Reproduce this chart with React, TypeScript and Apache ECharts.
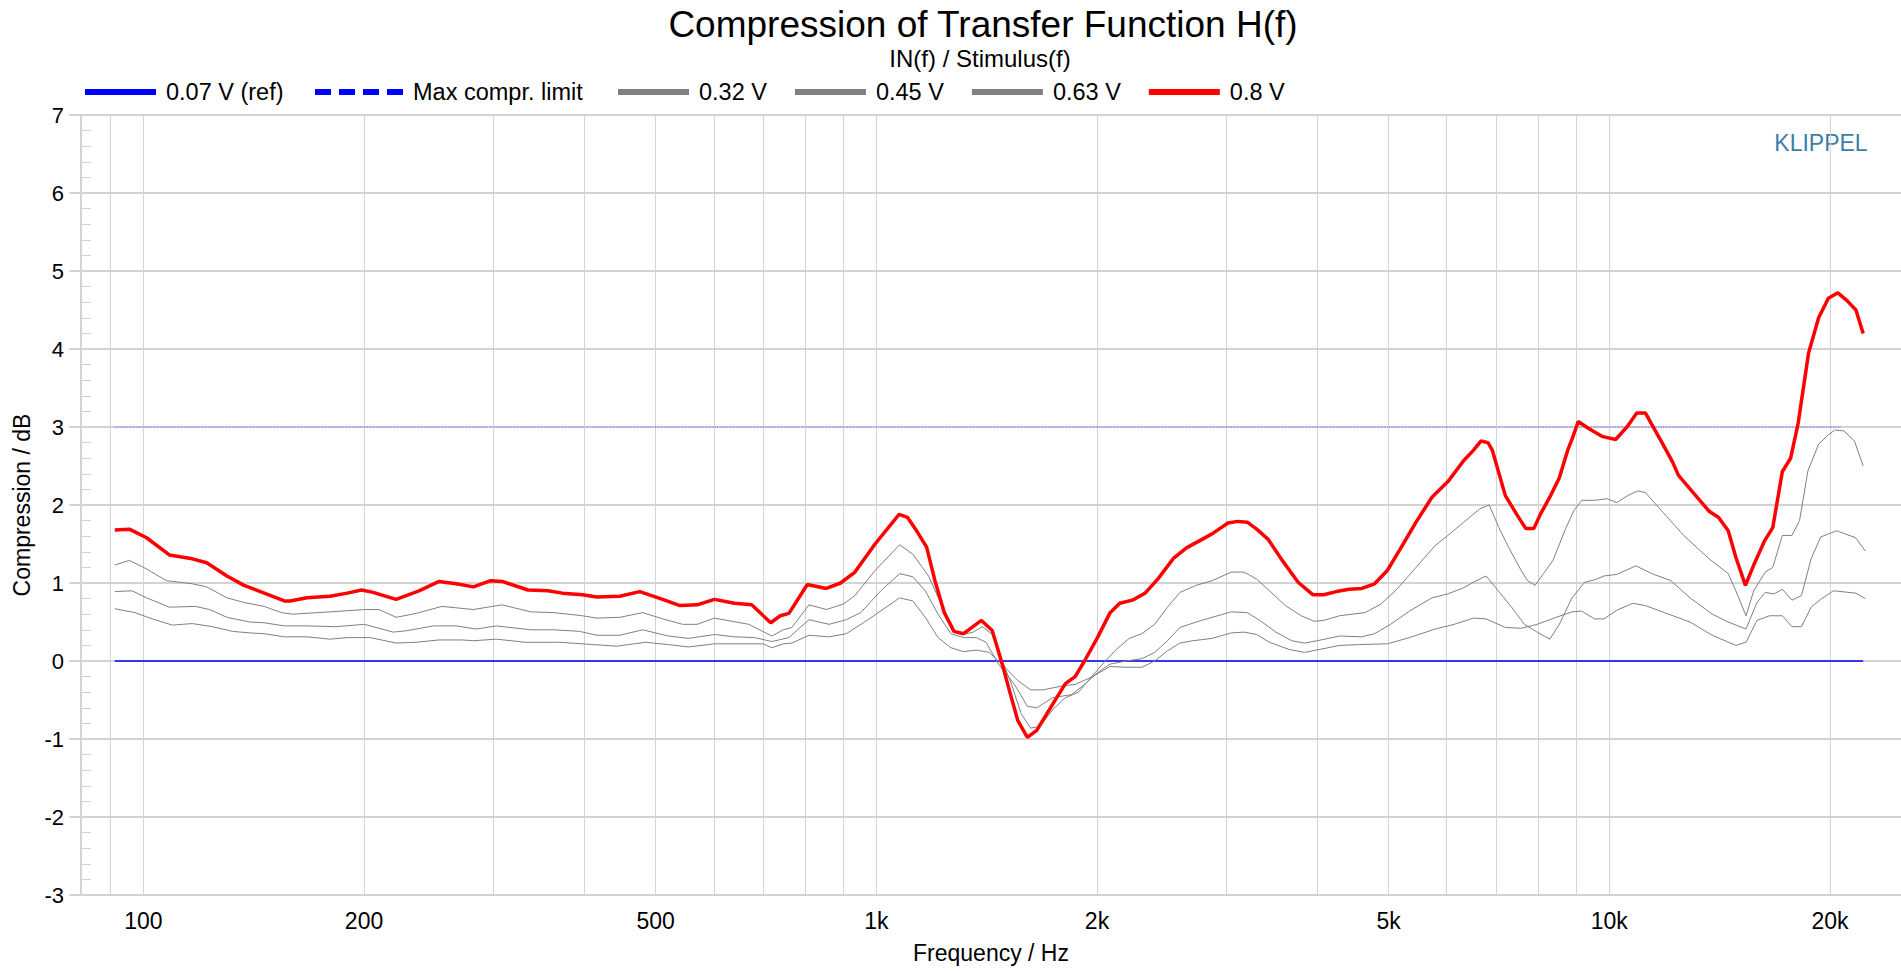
import React, { useEffect, useRef } from 'react';
import * as echarts from 'echarts';

const FONT = '"Liberation Sans", Arial, Helvetica, sans-serif';

// Axis tick values
const xLabelValues = [100, 200, 500, 1000, 2000, 5000, 10000, 20000];
const xGridValues = [90, 100, 200, 300, 400, 500, 600, 700, 800, 900, 1000, 2000, 3000, 4000, 5000, 6000, 7000, 8000, 9000, 10000, 20000];

// Series data: [frequency Hz, compression dB]
const ref007: [number, number][] = [[91.4, 0], [22200, 0]];
const maxLimit: [number, number][] = [[91.4, 3], [20700, 3]];

const v032: [number, number][] = [
  [91.4, 0.67], [97.4, 0.62], [102.8, 0.54], [109.5, 0.46], [116.6, 0.48], [124.2, 0.44], [132.3, 0.38], [139.7, 0.36],
  [146.1, 0.35], [155.7, 0.31], [167.2, 0.31], [179.7, 0.28], [189.7, 0.30], [203.9, 0.30], [221.2, 0.23], [235.6, 0.24],
  [253.2, 0.27], [272, 0.27], [282, 0.26], [303.2, 0.28], [331.7, 0.24], [369.6, 0.24], [397.2, 0.22], [442.5, 0.19],
  [484.3, 0.24], [520.4, 0.21], [554.4, 0.18], [601.2, 0.22], [669.9, 0.22], [700.8, 0.22], [720.1, 0.17], [746.4, 0.22],
  [766.8, 0.23], [809.3, 0.33], [862, 0.31], [910.1, 0.35], [977.9, 0.54], [1076, 0.81], [1121, 0.77], [1166, 0.56],
  [1214, 0.30], [1264, 0.17], [1315, 0.12], [1369, 0.14], [1425, 0.11], [1483, -0.04], [1559, -0.25], [1623, -0.37],
  [1689, -0.37], [1793, -0.32], [1867, -0.30], [1963, -0.21], [2084, -0.07], [2191, -0.08], [2303, -0.08], [2397, 0.0],
  [2495, 0.13], [2596, 0.23], [2704, 0.26], [2871, 0.29], [3049, 0.36], [3174, 0.37], [3303, 0.34], [3438, 0.24],
  [3651, 0.15], [3838, 0.11], [4035, 0.15], [4285, 0.20], [4550, 0.21], [4979, 0.22], [5339, 0.30], [5786, 0.41],
  [6144, 0.47], [6524, 0.55], [6789, 0.54], [7213, 0.43], [7582, 0.42], [7971, 0.47], [8463, 0.56], [8894, 0.63],
  [9167, 0.64], [9546, 0.54], [9834, 0.54], [10237, 0.65], [10762, 0.74], [11200, 0.71], [11893, 0.62], [12883, 0.50],
  [13818, 0.33], [14880, 0.20], [15365, 0.24], [15899, 0.52], [16545, 0.58], [17222, 0.58], [17749, 0.44], [18287, 0.44],
  [18850, 0.69], [19427, 0.79], [20215, 0.90], [21683, 0.87], [22347, 0.80],
];

const v045: [number, number][] = [
  [91.4, 0.89], [96.5, 0.90], [101, 0.81], [108.5, 0.69], [117.7, 0.70], [123.1, 0.66], [130, 0.56], [139.7, 0.50],
  [146.1, 0.49], [155.7, 0.45], [167.2, 0.45], [183, 0.44], [200.3, 0.47], [219.2, 0.37], [229.3, 0.39], [248.6, 0.45],
  [267.2, 0.45], [284.6, 0.41], [303.2, 0.45], [337.7, 0.40], [363, 0.40], [393.6, 0.38], [415.4, 0.33], [446.6, 0.33],
  [480, 0.40], [520.4, 0.32], [554.4, 0.29], [601.2, 0.34], [640.4, 0.31], [682.1, 0.30], [720.1, 0.25], [759.8, 0.30],
  [809.3, 0.53], [862, 0.47], [910.1, 0.53], [952, 0.62], [1014, 0.90], [1076, 1.12], [1121, 1.08], [1166, 0.90],
  [1214, 0.60], [1264, 0.35], [1315, 0.30], [1369, 0.30], [1411, 0.24], [1468, -0.04], [1543, -0.30], [1607, -0.58],
  [1655, -0.60], [1741, -0.47], [1848, -0.43], [1923, -0.30], [2003, -0.15], [2084, -0.04], [2191, 0.0], [2303, 0.03],
  [2397, 0.11], [2495, 0.26], [2596, 0.43], [2731, 0.50], [2871, 0.56], [3049, 0.63], [3206, 0.62], [3336, 0.52],
  [3508, 0.37], [3687, 0.26], [3838, 0.23], [3994, 0.26], [4285, 0.32], [4595, 0.31], [4783, 0.35], [5029, 0.47],
  [5339, 0.64], [5728, 0.81], [6023, 0.86], [6330, 0.94], [6524, 1.01], [6789, 1.09], [6998, 0.94], [7357, 0.69],
  [7657, 0.47], [7971, 0.37], [8294, 0.28], [8547, 0.47], [8894, 0.81], [9258, 1.01], [9546, 1.04], [9834, 1.09],
  [10237, 1.11], [10870, 1.22], [11430, 1.12], [12134, 1.03], [12883, 0.81], [13818, 0.60], [14528, 0.50], [15365, 0.41],
  [15899, 0.75], [16318, 0.88], [16780, 0.86], [17222, 0.92], [17749, 0.78], [18287, 0.84], [18850, 1.31], [19427, 1.59],
  [20421, 1.67], [21683, 1.58], [22347, 1.41],
];

const v063: [number, number][] = [
  [91.4, 1.23], [95.7, 1.29], [101, 1.18], [107.5, 1.03], [116.6, 0.99], [122, 0.95], [130, 0.81], [137.2, 0.75],
  [146.1, 0.70], [154.3, 0.62], [159.9, 0.60], [179.7, 0.63], [200.3, 0.66], [209.6, 0.66], [221.2, 0.56], [235.6, 0.61],
  [255.4, 0.70], [282, 0.66], [308.6, 0.72], [337.7, 0.63], [363, 0.62], [397.2, 0.58], [415.4, 0.55], [446.6, 0.56],
  [480, 0.62], [511, 0.54], [544.4, 0.47], [569.6, 0.47], [601.2, 0.55], [669.9, 0.47], [720.1, 0.32], [746.4, 0.40],
  [766.8, 0.43], [809.3, 0.72], [854.5, 0.66], [901.8, 0.73], [935, 0.84], [995.9, 1.16], [1076, 1.49], [1121, 1.37],
  [1178, 1.09], [1226, 0.73], [1276, 0.39], [1315, 0.34], [1355, 0.37], [1396, 0.44], [1439, 0.34], [1483, 0.01],
  [1528, -0.29], [1575, -0.67], [1623, -0.86], [1672, -0.84], [1741, -0.62], [1811, -0.47], [1886, -0.40], [1963, -0.21],
  [2044, -0.02], [2126, 0.15], [2213, 0.29], [2303, 0.35], [2397, 0.47], [2495, 0.69], [2596, 0.88], [2731, 0.97],
  [2871, 1.03], [3049, 1.14], [3174, 1.14], [3303, 1.05], [3438, 0.90], [3614, 0.71], [3800, 0.58], [3954, 0.51],
  [4075, 0.52], [4285, 0.58], [4460, 0.60], [4642, 0.62], [4880, 0.73], [5130, 0.92], [5449, 1.20], [5786, 1.48],
  [6023, 1.61], [6330, 1.78], [6656, 1.95], [6857, 2.0], [7069, 1.71], [7285, 1.46], [7582, 1.16], [7735, 1.03],
  [7920, 0.97], [8130, 1.12], [8378, 1.29], [8720, 1.70], [8948, 1.93], [9167, 2.06], [9546, 2.06], [9934, 2.08],
  [10237, 2.03], [10590, 2.12], [10935, 2.18], [11200, 2.16], [11776, 1.93], [12628, 1.61], [13682, 1.31], [14528, 1.12],
  [14880, 0.90], [15365, 0.58], [15740, 0.90], [16318, 1.14], [16710, 1.20], [17222, 1.61], [17749, 1.61], [18177, 1.80],
  [18664, 2.44], [19300, 2.78], [19900, 2.90], [20300, 2.96], [20900, 2.95], [21600, 2.82], [22200, 2.50],
];

const v08: [number, number][] = [
  [91.4, 1.68], [95.7, 1.69], [101, 1.58], [108.5, 1.36], [116.6, 1.31], [122, 1.26], [130, 1.09], [137.2, 0.97],
  [143.5, 0.90], [155.7, 0.77], [158.5, 0.77], [167.2, 0.81], [179.7, 0.83], [189.7, 0.87], [198.5, 0.91], [205.8, 0.88],
  [221.2, 0.79], [237.7, 0.90], [253.2, 1.02], [267.2, 0.99], [282, 0.95], [297.7, 1.03], [308.6, 1.02], [334.7, 0.91],
  [356.6, 0.90], [372.9, 0.87], [397.2, 0.85], [415.4, 0.82], [446.6, 0.83], [475.6, 0.89], [511, 0.79], [539.6, 0.71],
  [569.6, 0.72], [601.2, 0.79], [640.4, 0.74], [676, 0.72], [717.6, 0.49], [739.6, 0.58], [759.8, 0.61], [805, 0.98],
  [854.5, 0.93], [893.7, 1.00], [935, 1.14], [995.9, 1.50], [1074, 1.88], [1103, 1.84], [1131, 1.69], [1171, 1.46],
  [1202, 1.03], [1238, 0.62], [1276, 0.38], [1315, 0.35], [1391, 0.52], [1439, 0.39], [1483, -0.02], [1519, -0.38],
  [1559, -0.76], [1607, -0.98], [1655, -0.89], [1741, -0.55], [1811, -0.29], [1867, -0.20], [1923, 0.0], [2003, 0.30],
  [2084, 0.62], [2148, 0.74], [2235, 0.78], [2326, 0.87], [2421, 1.05], [2545, 1.32], [2649, 1.45], [2758, 1.54],
  [2871, 1.63], [3018, 1.77], [3111, 1.79], [3206, 1.78], [3303, 1.69], [3424, 1.56], [3579, 1.29], [3762, 1.01],
  [3939, 0.85], [4075, 0.85], [4243, 0.89], [4416, 0.92], [4595, 0.93], [4783, 0.99], [4979, 1.16], [5181, 1.43],
  [5449, 1.78], [5728, 2.10], [6023, 2.30], [6330, 2.57], [6524, 2.70], [6680, 2.82], [6830, 2.80], [6926, 2.70],
  [7213, 2.12], [7475, 1.88], [7689, 1.70], [7891, 1.70], [8051, 1.88], [8294, 2.10], [8547, 2.35], [8772, 2.70],
  [8900, 2.85], [9070, 3.07], [9370, 2.98], [9770, 2.88], [10200, 2.84], [10570, 3.00], [10900, 3.18], [11200, 3.18],
  [11400, 3.05], [11800, 2.80], [12200, 2.55], [12427, 2.38], [13012, 2.16], [13682, 1.92], [14096, 1.84], [14528, 1.67],
  [14880, 1.33], [15335, 0.97], [15740, 1.23], [16284, 1.54], [16710, 1.71], [17222, 2.43], [17675, 2.60], [18100, 3.05],
  [18700, 3.95], [19300, 4.40], [19900, 4.65], [20500, 4.72], [21100, 4.62], [21700, 4.50], [22200, 4.20],
];

const GRID_COLOR = '#d3d3d3';
const GRAY = '#808080';

function fmtFreq(v: number): string {
  return v >= 1000 ? `${Math.round(v / 1000)}k` : `${Math.round(v)}`;
}

const dashedIcon = 'path://M0,0H16V6H0Z M24,0H40V6H24Z M48,0H64V6H48Z M72,0H88V6H72Z';

const legendText = { fontSize: 23.5, fontFamily: FONT, color: '#000', padding: [0, 0, 0, 5] };

const option: any = {
  animation: false,
  backgroundColor: '#ffffff',
  textStyle: { fontFamily: FONT },
  title: [
    {
      text: 'Compression of Transfer Function H(f)',
      left: 978,
      top: 1,
      textAlign: 'center',
      textStyle: { fontSize: 37, fontWeight: 'normal', color: '#000', fontFamily: FONT },
    },
    {
      text: 'IN(f) / Stimulus(f)',
      left: 975,
      top: 41,
      textAlign: 'center',
      textStyle: { fontSize: 24, fontWeight: 'normal', color: '#000', fontFamily: FONT },
    },
  ],
  legend: [
    {
      left: 80, top: 75, itemWidth: 71, itemHeight: 6, itemGap: 28,
      textStyle: legendText, selectedMode: false,
      data: [{ name: '0.07 V (ref)', icon: 'rect', itemStyle: { color: '#0000ff' } }],
    },
    {
      left: 310, top: 75, itemWidth: 88, itemHeight: 6, itemGap: 28,
      textStyle: legendText, selectedMode: false,
      data: [{ name: 'Max compr. limit', icon: dashedIcon, itemStyle: { color: '#0000ff' } }],
    },
    {
      left: 613, top: 75, itemWidth: 71, itemHeight: 6, itemGap: 28,
      textStyle: legendText, selectedMode: false,
      data: [
        { name: '0.32 V', icon: 'rect', itemStyle: { color: GRAY } },
        { name: '0.45 V', icon: 'rect', itemStyle: { color: GRAY } },
        { name: '0.63 V', icon: 'rect', itemStyle: { color: GRAY } },
        { name: '0.8 V', icon: 'rect', itemStyle: { color: '#ff0000' } },
      ],
    },
  ],
  grid: { left: 81, top: 115, width: 1821, height: 780, containLabel: false },
  xAxis: {
    type: 'log',
    logBase: 10,
    min: 82.2,
    max: 25000,
    name: 'Frequency / Hz',
    nameLocation: 'middle',
    nameGap: 46,
    nameTextStyle: { fontSize: 23, color: '#000', fontFamily: FONT },
    axisLine: { show: true, lineStyle: { color: GRID_COLOR, width: 2 } },
    axisTick: { show: false, customValues: xGridValues },
    axisLabel: {
      customValues: xLabelValues,
      formatter: (v: number) => fmtFreq(v),
      fontSize: 23,
      color: '#000',
      margin: 14,
      fontFamily: FONT,
    },
    splitLine: { show: true, lineStyle: { color: GRID_COLOR, width: 1 } },
    minorTick: { show: false },
    minorSplitLine: { show: false },
  },
  yAxis: [
    {
      type: 'value',
      min: -3,
      max: 7,
      interval: 1,
      position: 'left',
      name: 'Compression / dB',
      nameLocation: 'middle',
      nameGap: 37,
      nameRotate: 90,
      nameTextStyle: { fontSize: 23, color: '#000', fontFamily: FONT },
      axisLine: { show: true, lineStyle: { color: GRID_COLOR, width: 2 } },
      axisTick: { show: true, inside: false, length: 12, lineStyle: { color: GRID_COLOR, width: 2 } },
      axisLabel: { fontSize: 22, color: '#000', margin: 17, fontFamily: FONT },
      splitLine: { show: true, lineStyle: { color: GRID_COLOR, width: 2 } },
    },
    {
      type: 'value',
      min: -3,
      max: 7,
      interval: 1,
      position: 'left',
      axisLine: { show: false },
      axisTick: { show: false, inside: true },
      axisLabel: { show: false },
      splitLine: { show: false },
      minorTick: { show: true, splitNumber: 5, length: 10, lineStyle: { color: GRID_COLOR, width: 1 } },
    },
  ],
  graphic: [
    {
      type: 'text',
      x: 1821,
      y: 143,
      style: {
        text: 'KLIPPEL',
        fill: '#3b7ea7',
        fontSize: 23,
        fontFamily: FONT,
        align: 'center',
        verticalAlign: 'middle',
      },
    },
  ],
  series: [
    {
      name: '0.07 V (ref)', type: 'line', data: ref007, showSymbol: false, symbol: 'none',
      lineStyle: { color: '#0000ff', width: 1.5 }, itemStyle: { color: '#0000ff' }, z: 3,
    },
    {
      name: 'Max compr. limit', type: 'line', data: maxLimit, showSymbol: false, symbol: 'none',
      lineStyle: { color: '#6a6aff', width: 1.2, type: 'dotted' }, itemStyle: { color: '#0000ff' }, z: 3,
    },
    {
      name: '0.32 V', type: 'line', data: v032, showSymbol: false, symbol: 'none',
      lineStyle: { color: GRAY, width: 1 }, itemStyle: { color: GRAY }, z: 4,
    },
    {
      name: '0.45 V', type: 'line', data: v045, showSymbol: false, symbol: 'none',
      lineStyle: { color: GRAY, width: 1 }, itemStyle: { color: GRAY }, z: 4,
    },
    {
      name: '0.63 V', type: 'line', data: v063, showSymbol: false, symbol: 'none',
      lineStyle: { color: GRAY, width: 1 }, itemStyle: { color: GRAY }, z: 4,
    },
    {
      name: '0.8 V', type: 'line', data: v08, showSymbol: false, symbol: 'none',
      lineStyle: { color: '#ff0000', width: 3.5 }, itemStyle: { color: '#ff0000' }, z: 5,
    },
  ],
};

export default function App() {
  const ref = useRef<HTMLDivElement>(null);
  useEffect(() => {
    document.body.style.margin = '0';
    const chart = echarts.init(ref.current as HTMLDivElement, null, { renderer: 'svg' });
    chart.setOption(option);
    return () => {
      chart.dispose();
    };
  }, []);
  return (
    <div
      ref={ref}
      style={{ position: 'absolute', left: 0, top: 0, width: 1901, height: 971, background: '#ffffff' }}
    />
  );
}
